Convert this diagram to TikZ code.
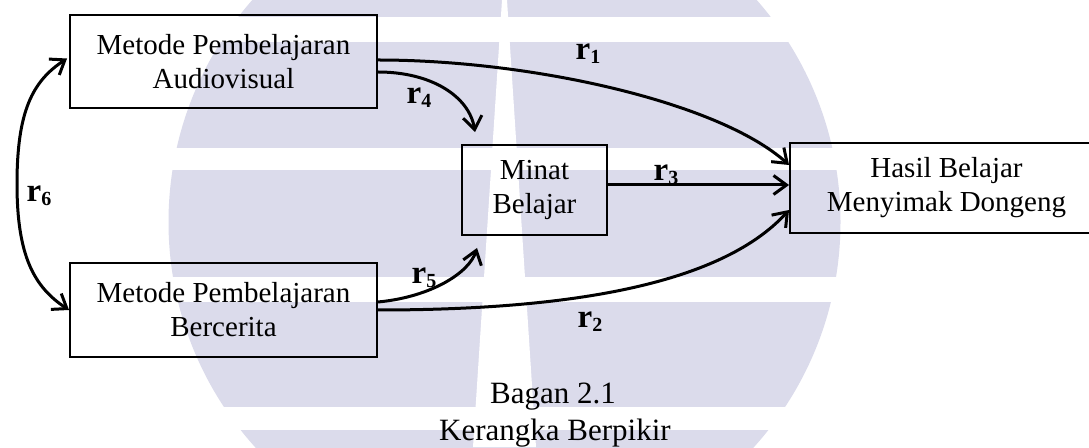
\documentclass[tikz,border=0pt]{standalone}
\usepackage{fontspec}
\setmainfont{Liberation Serif}
\usetikzlibrary{arrows.meta,calc}
\definecolor{wmark}{RGB}{219,219,235}
% bold path label r with a lowered index
\newcommand{\rlab}[1]{\textbf{r}\raisebox{-4pt}{\fontsize{20}{20}\selectfont\bfseries #1}}

\begin{document}
\begin{tikzpicture}[x=1pt,y=1pt,
  box/.style={draw, line width=1.9pt, inner sep=0pt, align=center,
              font=\fontsize{29}{34}\selectfont},
  conn/.style={line width=3pt, -{Straight Barb[length=13pt,width=19pt]}},
  lab/.style={font=\fontsize{33}{33}\selectfont, inner sep=0pt},
  captext/.style={font=\fontsize{31}{37}\selectfont, inner sep=0pt, anchor=base}]
\useasboundingbox (0,0) rectangle (1089,447);

% faint banded emblem in the background
\begin{scope}
  \clip (504.5,225) circle (336);
  \fill[wmark] (0,430) rectangle (1089,460);
  \fill[wmark] (0,299) rectangle (1089,405);
  \fill[wmark] (0,170) rectangle (1089,277);
  \fill[wmark] (0,40)  rectangle (1089,145);
  \fill[wmark] (0,-10) rectangle (1089,17);
  \fill[white] (502,447) -- (507,447) -- (536,0) -- (473,0) -- cycle;
\end{scope}

% boxes
\node[box, minimum width=307pt, minimum height=93pt] (A) at (223.5,385.5) {Metode Pembelajaran\\Audiovisual};
\node[box, minimum width=307pt, minimum height=94pt] (B) at (223.5,137) {Metode Pembelajaran\\Bercerita};
\node[box, minimum width=145pt, minimum height=90pt] (M) at (534.5,257) {Minat\\Belajar};
\node[box, minimum width=313pt, minimum height=90pt] (H) at (946.5,259) {Hasil Belajar\\Menyimak Dongeng};

% paths
\draw[conn] ($(A.east)+(0,1.5)$) .. controls +(153,0) and +(-70,63) .. ($(H.west)+(0,23)$);
\draw[conn] ($(A.east)+(0,-10.5)$) .. controls +(53,0) and +(-6,36) .. ($(M.north west)+(14,12)$);
\draw[conn] ($(B.east)+(0,8)$) .. controls +(53,5) and +(-8,-25) .. ($(M.south west)+(16,-12)$);
\draw[conn] (B.east) .. controls +(183,0) and +(-70,-77) .. ($(H.west)+(0,-22)$);
\draw[conn] ($(M.east)+(0,5)$) -- ($(H.west)+(0,3)$);

\coordinate (r6m) at (17,263);
\draw[line width=3pt, {Straight Barb[length=13pt,width=19pt]}-{Straight Barb[length=13pt,width=19pt]}]
  ($(A.west)+(-2,3)$) .. controls +(-35,-23) and +(0,72) .. (r6m)
  .. controls +(0,-72) and +(-35,23) .. (B.west);

% path labels
\node[lab] (l1) at (588,393) {\rlab{1}};
\node[lab] (l2) at (590,125) {\rlab{2}};
\node[lab] (l3) at (666,272) {\rlab{3}};
\node[lab] (l4) at (419,349) {\rlab{4}};
\node[lab] (l5) at (424,169) {\rlab{5}};
\node[lab] (l6) at (39,251) {\rlab{6}};

% caption
\node[captext] (c1) at (553,44) {Bagan 2.1};
\node[captext] (c2) at (555,7) {Kerangka Berpikir};
\end{tikzpicture}
\end{document}
